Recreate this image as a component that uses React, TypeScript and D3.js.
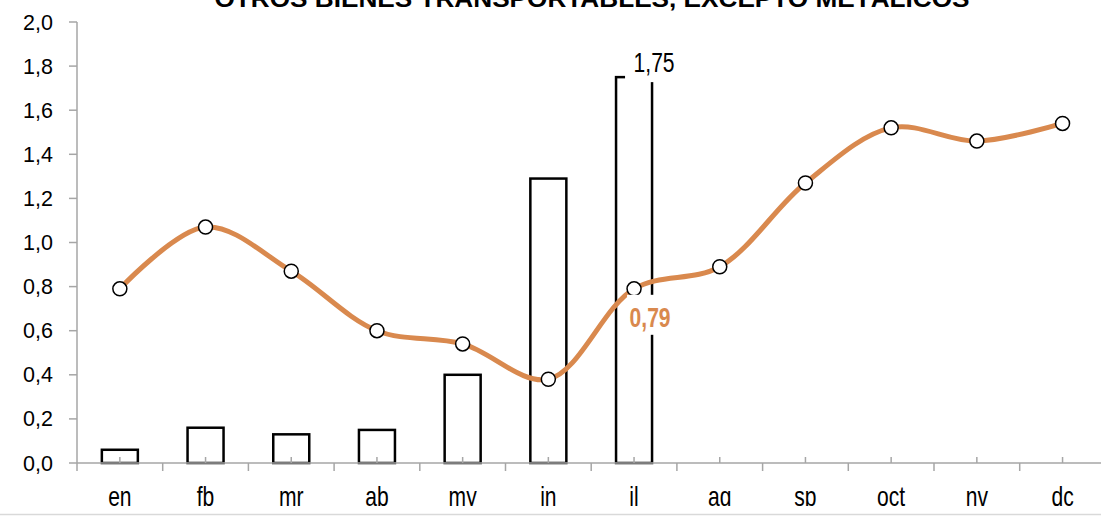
import React from "react";
import * as d3 from "d3";

const months = ["en", "fb", "mr", "ab", "my", "jn", "jl", "ag", "sp", "oct", "nv", "dc"];
const barMonths = ["en", "fb", "mr", "ab", "my", "jn", "jl"];
const barValues = [0.06, 0.16, 0.13, 0.15, 0.4, 1.29, 1.75];
const lineValues = [0.79, 1.07, 0.87, 0.6, 0.54, 0.38, 0.79, 0.89, 1.27, 1.52, 1.46, 1.54];
const yTicks = [0, 0.2, 0.4, 0.6, 0.8, 1.0, 1.2, 1.4, 1.6, 1.8, 2.0];
const title = "OTROS BIENES TRANSPORTABLES, EXCEPTO METÁLICOS";

const W = 1101;
const H = 516;
const FONT = "'Liberation Sans', Arial, sans-serif";
const ORANGE = "#d9894e";
const AXIS = "#a6a6a6";

export default function App() {
  const x = d3.scaleBand<string>().domain(months).range([77, 77 + 12 * 85.7]).padding(0);
  const y = d3.scaleLinear().domain([0, 2]).range([463, 22]);
  const bw = x.bandwidth();
  const cx = (m: string) => (x(m) as number) + bw / 2;
  const barW = 36;
  const fmt = (v: number) => d3.format(".1f")(v).replace(".", ",");
  const fmt2 = (v: number) => d3.format(".2f")(v).replace(".", ",");

  const line = d3
    .line<number>()
    .x((_, i) => cx(months[i]))
    .y((d) => y(d))
    .curve(d3.curveCatmullRom.alpha(0.5));

  const lastBarIdx = barValues.length - 1;
  const lbX = cx(barMonths[lastBarIdx]);
  const lbY = y(barValues[lastBarIdx]);
  const lineLabelIdx = 6;
  const llX = cx(months[lineLabelIdx]);
  const llY = y(lineValues[lineLabelIdx]);

  return (
    <svg
      width={W}
      height={H}
      style={{ position: "absolute", left: 0, top: 0, background: "#fff" }}
      fontFamily={FONT}
    >
      <defs>
        <clipPath id="xclip">
          <rect x={0} y={470} width={W} height={36} />
        </clipPath>
      </defs>
      <rect x={0} y={0} width={W} height={H} fill="#fff" />
      {/* title */}
      <text
        x={592}
        y={7}
        textAnchor="middle"
        fontWeight="bold"
        fontSize={24}
        textLength={755}
        lengthAdjust="spacingAndGlyphs"
        fill="#000"
      >
        {title}
      </text>

      {/* bars */}
      {barValues.map((v, i) => (
        <rect
          key={barMonths[i]}
          x={cx(barMonths[i]) - barW / 2}
          y={y(v)}
          width={barW}
          height={y(0) - y(v)}
          fill="#fff"
          stroke="#000"
          strokeWidth={2.5}
        />
      ))}

      {/* y axis */}
      <line x1={77} x2={77} y1={y(2)} y2={y(0)} stroke={AXIS} strokeWidth={1.5} />
      {yTicks.map((t) => (
        <g key={t}>
          <line x1={69} x2={77} y1={y(t)} y2={y(t)} stroke={AXIS} strokeWidth={1.5} />
          <text x={53} y={y(t) + 7.5} textAnchor="end" fontSize={21.5} fill="#000">
            {fmt(t)}
          </text>
        </g>
      ))}

      {/* x axis */}
      <line x1={77} x2={W} y1={y(0)} y2={y(0)} stroke={AXIS} strokeWidth={1.5} />
      {months.map((m) => (
        <g key={m}>
          <line x1={x(m) as number} x2={x(m) as number} y1={y(0)} y2={y(0) + 8} stroke={AXIS} strokeWidth={1.5} />
          <line x1={cx(m)} x2={cx(m)} y1={y(0) - 6} y2={y(0)} stroke={AXIS} strokeWidth={1.5} />
        </g>
      ))}
      <g clipPath="url(#xclip)">
        {months.map((m) => (
          <text
            key={m}
            transform={`translate(${cx(m)},505.5) scale(0.78,1)`}
            textAnchor="middle"
            fontSize={27}
            fill="#000"
          >
            {m}
          </text>
        ))}
      </g>

      {/* line */}
      <path d={line(lineValues) || ""} fill="none" stroke={ORANGE} strokeWidth={5} strokeLinecap="round" />
      {lineValues.map((v, i) => (
        <circle key={months[i]} cx={cx(months[i])} cy={y(v)} r={7} fill="#fff" stroke="#000" strokeWidth={1.5} />
      ))}

      {/* bar label */}
      <rect x={lbX - 9} y={lbY - 33} width={59} height={38} fill="#fff" />
      <text
        transform={`translate(${lbX + 20},${lbY - 5}) scale(0.78,1)`}
        textAnchor="middle"
        fontSize={27}
        fill="#000"
      >
        {fmt2(barValues[lastBarIdx])}
      </text>

      {/* line label */}
      <rect x={llX - 7} y={llY + 6} width={47} height={40} fill="#fff" />
      <text
        transform={`translate(${llX + 16},${llY + 38}) scale(0.78,1)`}
        textAnchor="middle"
        fontSize={27}
        fontWeight="bold"
        fill={ORANGE}
      >
        {fmt2(lineValues[lineLabelIdx])}
      </text>

      {/* bottom border */}
      <line x1={0} x2={W} y1={514.5} y2={514.5} stroke="#d9d9d9" strokeWidth={1.5} />
    </svg>
  );
}
